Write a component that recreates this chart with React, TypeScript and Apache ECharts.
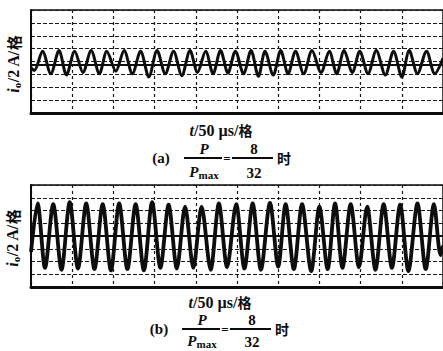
import React, { useEffect, useRef } from "react";
import * as echarts from "echarts";

// time (µs) of each turning point of the trace and current (A) there
const topTimes = [0, 4, 14, 24, 34, 43, 53, 63, 73, 83, 92, 103, 113, 123, 133, 143, 153, 163, 173, 183, 193, 202, 212, 221, 230, 239, 248, 258, 267, 276, 284, 294, 303, 312, 321, 331, 341, 352, 362, 371, 380, 390, 399, 409, 419, 430, 440, 450, 459, 469, 480, 490, 500];
const topCurrent = [-1.0, -1.4, 1.6, -1.9, 1.7, -2.1, 1.6, -1.7, 1.7, -1.9, 1.6, -1.5, 1.7, -1.9, 1.6, -2.4, 1.7, -1.9, 1.6, -2.2, 1.7, -1.7, 1.6, -1.9, 1.7, -1.8, 1.6, -1.9, 1.7, -2.3, 1.6, -2.1, 1.7, -1.9, 1.6, -1.9, 1.7, -1.7, 1.6, -1.9, 1.7, -1.7, 1.6, -1.9, 1.7, -2.1, 1.6, -2.4, 1.7, -1.9, 1.6, -1.9, 0.5];
const bottomTimes = [0, 8, 17, 27, 37, 47, 57, 67, 77, 87, 97, 107, 117, 127, 137, 147, 157, 167, 177, 187, 197, 207, 218, 228, 238, 249, 259, 269, 279, 290, 300, 309, 319, 329, 340, 350, 360, 369, 378, 388, 398, 408, 418, 428, 438, 448, 458, 469, 479, 489, 497, 500];
const bottomCurrent = [-2.5, 5.1, -5.0, 5.0, -5.3, 5.3, -5.1, 5.1, -5.2, 5.0, -5.4, 5.1, -5.2, 5.0, -5.4, 5.3, -5.0, 4.9, -5.1, 4.6, -5.0, 4.6, -5.3, 5.1, -4.9, 5.0, -5.1, 5.1, -5.3, 5.2, -4.8, 5.0, -5.2, 5.0, -5.5, 4.6, -5.2, 5.1, -5.0, 5.0, -4.9, 4.6, -5.3, 5.0, -5.0, 4.9, -5.5, 5.1, -5.2, 5.0, -3.0, -1.5];
const topBaseline = -0.5;
const bottomBaseline = 0;
const timeTicks = { min: 0, max: 500, interval: 50 };
const currentTicks = { min: -8, max: 8, interval: 2 };
const captions = ["(a)", "(b)"];

const INK = "#0d0d0d";
const SERIF = "'Liberation Serif', 'DejaVu Serif', serif";
const CJK = "'Noto Sans CJK SC', sans-serif";

export default function App() {
  const ref = useRef<HTMLDivElement>(null);
  useEffect(() => {
    const chart = echarts.init(ref.current!, null, { renderer: "svg" });
    const grids = [
      { left: 31, top: 10, width: 416, height: 103 },
      { left: 31, top: 185, width: 416, height: 102 },
    ];
    const xAxes = grids.map((_, i) => ({
      type: "value",
      gridIndex: i,
      ...timeTicks,
      axisLabel: { show: false },
      axisTick: { show: false },
      axisLine: { show: true, onZero: false, lineStyle: { color: INK, width: 3 } },
      splitLine: { show: true, lineStyle: { color: "#1a1a1a", width: 1.2, type: [3, 3] } },
    }));
    const yAxes = grids.map((_, i) => ({
      type: "value",
      gridIndex: i,
      ...currentTicks,
      axisLabel: { show: false },
      axisTick: { show: false },
      axisLine: { show: true, onZero: false, lineStyle: { color: INK, width: 2 } },
      splitLine: { show: true, lineStyle: { color: "#1a1a1a", width: 1.2, type: [4, 2] } },
    }));
    const mkSeries = (i: number, times: number[], vals: number[], base: number, w: number) => ({
      type: "line",
      xAxisIndex: i,
      yAxisIndex: i,
      data: times.map((t, k) => [t, vals[k]]),
      smooth: 0.3,
      symbol: "none",
      lineStyle: { color: INK, width: w },
      markLine: {
        silent: true,
        symbol: "none",
        label: { show: false },
        lineStyle: { color: INK, width: 2, type: "solid" },
        data: [{ yAxis: base }],
      },
    });

    const yLabel = (x: number, y: number) => ({
      type: "text",
      x,
      y,
      rotation: Math.PI / 2,
      style: {
        text: "{i|i}{s|o}{n|/2 A/}{c|格}",
        align: "center",
        verticalAlign: "middle",
        fill: INK,
        rich: {
          i: { fontFamily: SERIF, fontWeight: "bold", fontStyle: "italic", fontSize: 16, fill: INK, lineHeight: 18, verticalAlign: "middle" },
          s: { fontFamily: SERIF, fontWeight: "bold", fontSize: 11, fill: INK, lineHeight: 18, verticalAlign: "bottom" },
          n: { fontFamily: SERIF, fontWeight: "bold", fontSize: 16, fill: INK, lineHeight: 18, verticalAlign: "middle" },
          c: { fontFamily: CJK, fontWeight: "bold", fontSize: 15, fill: INK, lineHeight: 18, verticalAlign: "middle" },
        },
      },
    });
    const xLabel = (x: number, y: number) => ({
      type: "text",
      x,
      y,
      style: {
        text: "{i|t}{n|/50 µs/}{c|格}",
        align: "center",
        verticalAlign: "middle",
        fill: INK,
        rich: {
          i: { fontFamily: SERIF, fontWeight: "bold", fontStyle: "italic", fontSize: 16, fill: INK },
          n: { fontFamily: SERIF, fontWeight: "bold", fontSize: 16, fill: INK },
          c: { fontFamily: CJK, fontWeight: "bold", fontSize: 14, fill: INK },
        },
      },
    });
    const txt = (x: number, y: number, text: string, opt: any = {}) => ({
      type: "text",
      x,
      y,
      style: {
        text,
        align: "center",
        verticalAlign: "middle",
        fill: INK,
        fontFamily: SERIF,
        fontWeight: "bold",
        fontSize: 15,
        ...opt,
      },
    });
    const bar = (x1: number, x2: number, y: number) => ({
      type: "line",
      shape: { x1, y1: y, x2, y2: y },
      style: { stroke: INK, lineWidth: 1.8 },
    });
    const caption = (label: string, dx: number, y: number, dd: number) => [
      txt(161 + dx, y, label),
      txt(204 + dx, y - 9, "P", { fontStyle: "italic" }),
      bar(184 + dx, 222 + dx, y),
      {
        type: "text",
        x: 204 + dx,
        y: y + dd,
        style: {
          text: "{p|P}{m|max}",
          align: "center",
          verticalAlign: "middle",
          rich: {
            p: { fontFamily: SERIF, fontWeight: "bold", fontStyle: "italic", fontSize: 15, fill: INK, lineHeight: 16, verticalAlign: "middle" },
            m: { fontFamily: SERIF, fontWeight: "bold", fontSize: 11, fill: INK, lineHeight: 16, verticalAlign: "bottom" },
          },
        },
      },
      txt(227 + dx, y, "=", { fontSize: 13 }),
      txt(254 + dx, y - 9, "8"),
      bar(232 + dx, 273 + dx, y),
      txt(254 + dx, y + dd + 1, "32"),
      txt(284 + dx, y, "时", { fontFamily: CJK, fontSize: 14 }),
    ];

    chart.setOption({
      animation: false,
      backgroundColor: "#fff",
      grid: grids.map((g) => ({ ...g, show: true, borderColor: INK, borderWidth: 1.5, backgroundColor: "transparent" })),
      xAxis: xAxes,
      yAxis: yAxes,
      series: [
        mkSeries(0, topTimes, topCurrent, topBaseline, 3),
        mkSeries(1, bottomTimes, bottomCurrent, bottomBaseline, 3.8),
      ],
      graphic: [
        yLabel(13, 64),
        yLabel(12, 238),
        xLabel(221, 130),
        xLabel(220, 302),
        ...caption(captions[0], 0, 158, 14),
        ...caption(captions[1], -2, 329, 12),
      ],
    });
    return () => chart.dispose();
  }, []);
  return <div ref={ref} style={{ position: "fixed", left: 0, top: 0, width: 443, height: 351 }} />;
}
